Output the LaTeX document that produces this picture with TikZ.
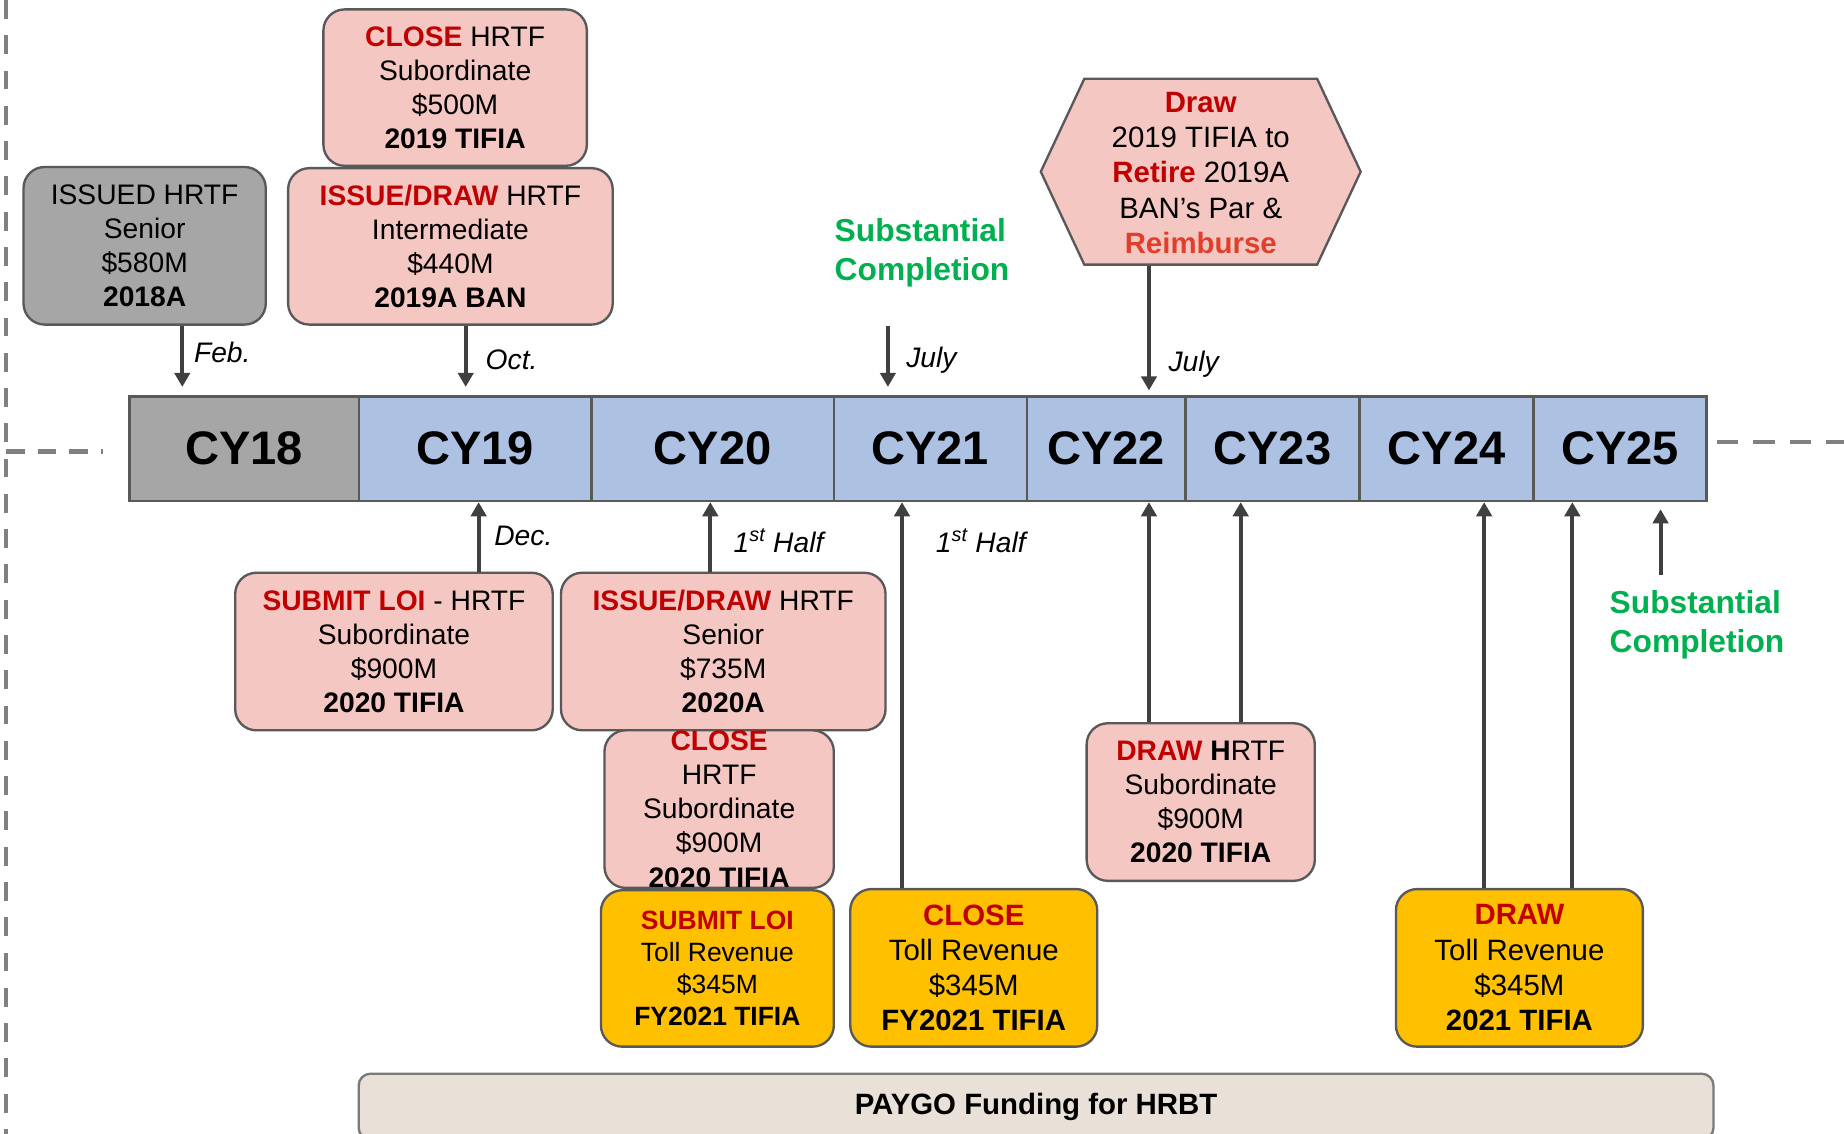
\documentclass[tikz,border=0pt]{standalone}
\usepackage{fontspec}
\setmainfont{Liberation Sans}
\usetikzlibrary{arrows.meta}
\definecolor{pinkfill}{HTML}{F4C7C3}
\definecolor{yellowfill}{HTML}{FFC000}
\definecolor{bluefill}{HTML}{ADC2E2}
\definecolor{grayfill}{HTML}{A6A6A6}
\definecolor{bordercol}{HTML}{595959}
\definecolor{redtxt}{HTML}{C00000}
\definecolor{orangered}{HTML}{E0402B}
\definecolor{greentxt}{HTML}{00B050}
\definecolor{arrowcol}{HTML}{404040}
\definecolor{paygofill}{HTML}{E9E1D7}
\definecolor{dashgray}{HTML}{808080}
\newcommand\myfs[2]{\fontsize{#1}{#2}\selectfont}
\newcommand\rb[1]{\textcolor{redtxt}{\textbf{#1}}}
\begin{document}
\begin{tikzpicture}[x=1pt,y=-1pt,
  box/.style={draw=bordercol, line width=2pt, rounded corners=18pt, align=center,
    inner sep=0pt, font=\myfs{24}{29}},
  pinkbox/.style={box, fill=pinkfill},
  graybox/.style={box, fill=grayfill},
  yellowbox/.style={box, fill=yellowfill},
  cell/.style={draw=bordercol, line width=2pt, inner sep=0pt, minimum height=89pt,
    font=\myfs{40}{48}\bfseries, fill=bluefill},
  arr/.style={draw=arrowcol, line width=3.5pt, -{Triangle[width=13pt,length=12pt]}},
  lbl/.style={inner sep=0pt, font=\myfs{24}{29}\itshape},
  green/.style={inner sep=0pt, align=left, text=greentxt, font=\myfs{27}{33}\bfseries},
  dashline/.style={draw=dashgray, line width=3.5pt, dash pattern=on 16pt off 14pt}
]
\useasboundingbox (0,0) rectangle (1568,964);
\clip (0,0) rectangle (1568,964);

% dashed guide lines
\coordinate (dtop) at (5,0);
\coordinate (dbot) at (5,964);
\draw[dashline] (dtop) -- (dbot);
\coordinate (dl1) at (5,384);
\coordinate (dl2) at (88,384);
\draw[dashline, line width=4pt, dash pattern=on 16pt off 11pt] (dl1) -- (dl2);
\coordinate (dr1) at (1460,376);
\coordinate (dr2) at (1568,376);
\draw[dashline, dash pattern=on 18pt off 13pt] (dr1) -- (dr2);

% timeline
\node[cell, fill=grayfill, minimum width=195pt] (cy18) at (207.5,381.5) {CY18};
\node[cell, minimum width=198pt] (cy19) at (404,381.5) {CY19};
\node[cell, minimum width=206pt] (cy20) at (606,381.5) {CY20};
\node[cell, minimum width=164pt] (cy21) at (791,381.5) {CY21};
\node[cell, minimum width=135pt] (cy22) at (940.5,381.5) {CY22};
\node[cell, minimum width=148pt] (cy23) at (1082,381.5) {CY23};
\node[cell, minimum width=148pt] (cy24) at (1230,381.5) {CY24};
\node[cell, minimum width=147pt] (cy25) at (1377.5,381.5) {CY25};

% top boxes
\node[graybox, minimum width=206pt, minimum height=134pt] (issued) at (123,209)
  {ISSUED HRTF\\Senior\\\$580M\\\textbf{2018A}};
\node[pinkbox, minimum width=224pt, minimum height=133pt] (close19) at (387,74.5)
  {\rb{CLOSE} HRTF\\Subordinate\\\$500M\\\textbf{2019 TIFIA}};
\node[pinkbox, minimum width=276pt, minimum height=133pt] (issue19) at (383,209.5)
  {\rb{ISSUE/DRAW} HRTF\\Intermediate\\\$440M\\\textbf{2019A BAN}};

% hexagon
\draw[draw=bordercol, line width=2pt, fill=pinkfill]
  (885,146) -- (922,67) -- (1120,67) -- (1157,146) -- (1120,225) -- (922,225) -- cycle;
\node[inner sep=0pt, align=center, font=\myfs{25}{30}, minimum width=272pt, minimum height=158pt] (hex) at (1021,147)
  {\rb{Draw}\\2019 TIFIA to\\\rb{Retire} 2019A\\BAN’s Par \&\\\textcolor{orangered}{\textbf{Reimburse}}};

% green texts
\node[green] (sc1) at (784,215) {Substantial\\Completion};
\node[green] (sc2) at (1443,531) {Substantial\\Completion};

% bottom boxes
\node[pinkbox, minimum width=270pt, minimum height=134pt] (loi20) at (335,554)
  {\rb{SUBMIT LOI} - HRTF\\Subordinate\\\$900M\\\textbf{2020 TIFIA}};
\node[pinkbox, minimum width=276pt, minimum height=134pt] (issue20) at (615,554)
  {\rb{ISSUE/DRAW} HRTF\\Senior\\\$735M\\\textbf{2020A}};
\node[pinkbox, minimum width=195pt, minimum height=134pt] (close20) at (611.5,688)
  {\rb{CLOSE}\\HRTF\\Subordinate\\\$900M\\\textbf{2020 TIFIA}};
\node[yellowbox, minimum width=198pt, minimum height=133pt, font=\myfs{22.5}{27}] (loi21) at (610,823.5)
  {\rb{SUBMIT LOI}\\Toll Revenue\\\$345M\\\textbf{FY2021 TIFIA}};
\node[yellowbox, minimum width=210pt, minimum height=134pt, font=\myfs{25}{30}] (close21) at (828,823)
  {\rb{CLOSE}\\Toll Revenue\\\$345M\\\textbf{FY2021 TIFIA}};
\node[pinkbox, minimum width=194pt, minimum height=134pt] (draw20) at (1021,682)
  {\rb{DRAW} \textbf{H}RTF\\Subordinate\\\$900M\\\textbf{2020 TIFIA}};
\node[yellowbox, minimum width=210pt, minimum height=134pt, font=\myfs{25}{30}] (draw21) at (1292,823)
  {\rb{DRAW}\\Toll Revenue\\\$345M\\\textbf{2021 TIFIA}};

% paygo
\node[draw=bordercol!80, line width=2pt, fill=paygofill, rounded corners=10pt,
  minimum width=1152pt, minimum height=56pt, inner sep=0pt, font=\myfs{25}{30}\bfseries]
  (paygo) at (881,941) {PAYGO Funding for HRBT};

% arrow x positions
\coordinate (xfeb) at (155,0);
\coordinate (xoct) at (396,0);
\coordinate (xjul2) at (977,0);
\coordinate (xdec) at (407,0);
\coordinate (xh1) at (604,0);
\coordinate (xh2) at (767,0);
\coordinate (x22) at (977,0);
\coordinate (x23) at (1055,0);
\coordinate (x24) at (1262,0);
\coordinate (x25) at (1337,0);
\coordinate (jstart) at (755,277);
\coordinate (scstart) at (1412,489);

% top arrows
\draw[arr, shorten >=7pt] (issued.south -| xfeb) -- (cy18.north -| xfeb);
\draw[arr, shorten >=7pt] (issue19.south -| xoct) -- (cy19.north -| xoct);
\draw[arr, shorten >=7pt] (jstart) -- (cy21.north -| jstart);
\draw[arr, shorten >=4pt] (hex.south -| xjul2) -- (cy22.north -| xjul2);

% bottom arrows
\draw[arr] (loi20.north -| xdec) -- (cy19.south -| xdec);
\draw[arr] (issue20.north -| xh1) -- (cy20.south -| xh1);
\draw[arr] (close21.north -| xh2) -- (cy21.south -| xh2);
\draw[arr] (draw20.north -| x22) -- (cy22.south -| x22);
\draw[arr] (draw20.north -| x23) -- (cy23.south -| x23);
\draw[arr] (draw21.north -| x24) -- (cy24.south -| x24);
\draw[arr] (draw21.north -| x25) -- (cy25.south -| x25);
\draw[arr, shorten >=6pt] (scstart) -- (cy25.south -| scstart);

% labels
\node[lbl] (lfeb) at (189,300) {Feb.};
\node[lbl] (loct) at (435,306) {Oct.};
\node[lbl] (ljul1) at (792,306) {July};
\node[lbl] (ljul2) at (1015,310) {July};
\node[lbl] (ldec) at (445,456) {Dec.};
\node[lbl] (lh1) at (662,460) {1\textsuperscript{st} Half};
\node[lbl] (lh2) at (834,460) {1\textsuperscript{st} Half};
\end{tikzpicture}
\end{document}
